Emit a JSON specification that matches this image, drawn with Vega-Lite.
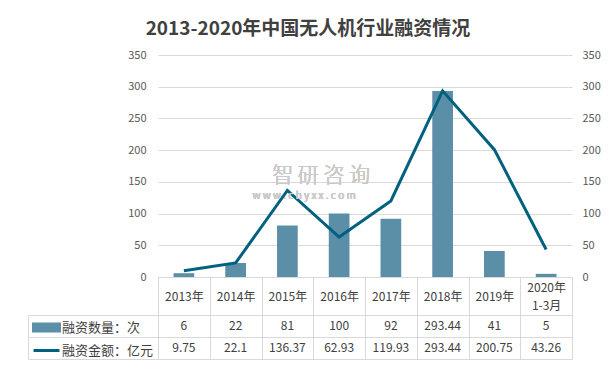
{
  "$schema": "https://vega.github.io/schema/vega-lite/v6.json",
  "padding": {"left": 27, "top": 20, "right": 5, "bottom": 5},
  "autosize": {"type": "pad"},
  "background": "white",
  "title": {"text": "2013-2020年中国无人机行业融资情况", "fontSize": 19, "fontWeight": "bold", "color": "#404040", "anchor": "middle", "frame": "group", "dx": -57, "offset": 10},
  "config": {"view": {"stroke": null}, "font": "Noto Sans CJK SC"},
  "data": {"values": [
    {"year": "2013年", "count": 6, "amount": 9.75},
    {"year": "2014年", "count": 22, "amount": 22.1},
    {"year": "2015年", "count": 81, "amount": 136.37},
    {"year": "2016年", "count": 100, "amount": 62.93},
    {"year": "2017年", "count": 92, "amount": 119.93},
    {"year": "2018年", "count": 293.44, "amount": 293.44},
    {"year": "2019年", "count": 41, "amount": 200.75},
    {"year": "2020年1-3月", "count": 5, "amount": 43.26}
  ]},
  "bounds": "flush",
  "spacing": 38,
  "vconcat": [
    {
      "width": 414,
      "height": 222,
      "layer": [
        {
          "mark": {"type": "bar", "width": {"band": 0.4}},
          "encoding": {
            "x": {"field": "year", "type": "nominal", "sort": null, "title": null,
              "scale": {"paddingInner": 0, "paddingOuter": 0},
              "axis": {"orient": "bottom", "tickBand": "extent", "tickSize": 38, "tickColor": "#D9D9D9", "domainColor": "#D9D9D9",
                "labelPadding": {"condition": {"test": "datum.value == '2020年1-3月'", "value": -28}, "value": -19},
                "labelBaseline": "middle", "labelAngle": 0, "labelFontSize": 12, "labelColor": "#404040",
                "labelLineHeight": 18, "labelOverlap": false,
                "labelExpr": "datum.value == '2020年1-3月' ? ['2020年', '1-3月'] : datum.label"}},
            "y": {"field": "count", "type": "quantitative", "title": null,
              "scale": {"domain": [0, 350]},
              "axis": {"orient": "left", "values": [0, 50, 100, 150, 200, 250, 300, 350], "grid": true, "gridColor": "#D9D9D9",
                "ticks": false, "domain": false, "labelPadding": 12, "labelFontSize": 11, "labelColor": "#595959"}},
            "color": {"datum": "融资数量：次", "type": "nominal",
              "scale": {"domain": ["融资数量：次", "融资金额：亿元"], "range": ["#5B8FA8", "#00607F"]},
              "legend": {"orient": "none", "legendX": -124, "legendY": 260, "title": null, "direction": "vertical",
                "symbolSize": 484, "labelOffset": 3, "rowPadding": 0, "labelFontSize": 13, "labelColor": "#404040", "padding": 0,
                "encode": {"symbols": {"update": {
                  "shape": {"signal": "datum.value === '融资数量：次' ? 'M-1.18,-0.32H1.18V0.32H-1.18Z' : 'M-1.18,0H1.18'"},
                  "fill": {"signal": "datum.value === '融资数量：次' ? '#5B8FA8' : 'transparent'"},
                  "stroke": {"signal": "datum.value === '融资数量：次' ? 'transparent' : '#00607F'"},
                  "strokeWidth": {"value": 3},
                  "opacity": {"value": 1}
                }}}}}
          }
        },
        {
          "mark": {"type": "line", "strokeWidth": 3},
          "encoding": {
            "x": {"field": "year", "type": "nominal", "sort": null},
            "y": {"field": "amount", "type": "quantitative", "title": null,
              "scale": {"domain": [0, 350]},
              "axis": {"orient": "right", "values": [0, 50, 100, 150, 200, 250, 300, 350], "grid": false,
                "ticks": false, "domain": false, "labelPadding": 10, "labelFontSize": 11, "labelColor": "#595959"}},
            "color": {"datum": "融资金额：亿元", "type": "nominal"}
          }
        },
        {
          "mark": {"type": "text", "fontSize": 21, "fontWeight": 300, "color": "#CACACA", "dx": -18},
          "encoding": {
            "x": {"datum": "2016年", "type": "nominal"},
            "y": {"datum": 160, "type": "quantitative", "scale": {"domain": [0, 350]}, "axis": null},
            "text": {"value": "智 研 咨 询"}
          }
        },
        {
          "mark": {"type": "text", "fontSize": 10, "color": "#CACACA", "dx": -35},
          "encoding": {
            "x": {"datum": "2016年", "type": "nominal"},
            "y": {"datum": 127, "type": "quantitative", "scale": {"domain": [0, 350]}, "axis": null},
            "text": {"value": "w w w . c h y x x . c o m"}
          }
        }
      ],
      "resolve": {"scale": {"y": "independent"}}
    },
    {
      "width": 414,
      "height": 44,
      "transform": [{"fold": ["count", "amount"], "as": ["series", "value"]}],
      "mark": {"type": "text", "fontSize": 12, "color": "#404040"},
      "encoding": {
        "x": {"field": "year", "type": "nominal", "sort": null, "title": null,
          "scale": {"paddingInner": 0, "paddingOuter": 0},
          "axis": {"grid": true, "tickBand": "extent", "gridColor": "#D9D9D9", "labels": false, "ticks": false, "domain": false}},
        "y": {"field": "series", "type": "nominal", "sort": ["count", "amount"], "title": null,
          "scale": {"paddingInner": 0, "paddingOuter": 0},
          "axis": {"orient": "left", "offset": 130, "tickSize": -130, "tickBand": "extent", "grid": true, "gridColor": "#D9D9D9",
            "tickColor": "#D9D9D9", "domainColor": "#D9D9D9", "labels": false}},
        "text": {"field": "value", "type": "nominal"}
      }
    }
  ]
}
